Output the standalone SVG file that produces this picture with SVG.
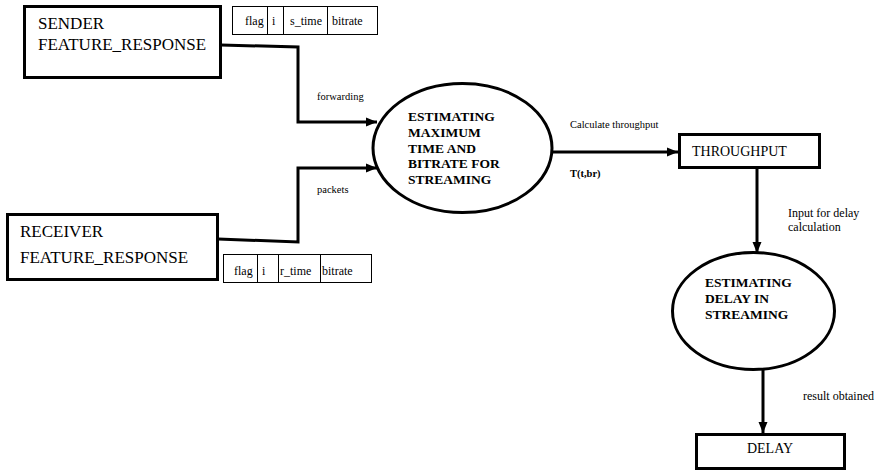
<svg xmlns="http://www.w3.org/2000/svg" width="881" height="473" viewBox="0 0 881 473">
<style>
.box{fill:#fff;stroke:#000;stroke-width:3}
.cell{fill:#fff;stroke:#000;stroke-width:1}
.ell{fill:#fff;stroke:#000;stroke-width:3}
.conn{fill:none;stroke:#000;stroke-width:3}
.t{font-family:"Liberation Serif","Times New Roman",serif;fill:#000}
.big{font-size:17px}
.mid{font-size:14px}
.cellt{font-size:12px}
.lab{font-size:10.5px}
.lab2{font-size:12px}
.bold{font-size:13.5px;font-weight:bold}
</style>
<defs>
<marker id="arr" markerUnits="userSpaceOnUse" markerWidth="12" markerHeight="10" refX="11" refY="5" orient="auto">
<path d="M0,0.5 L11,5 L0,9.5 z" fill="#000"/>
</marker>
</defs>
<rect width="881" height="473" fill="#fff"/>
<g id="connectors">
<polyline class="conn" points="221,45 298,47 298,122 377,122" marker-end="url(#arr)"/>
<polyline class="conn" points="218,239 298,242 298,168 377,168" marker-end="url(#arr)"/>
<line class="conn" x1="552" y1="152" x2="678" y2="152" marker-end="url(#arr)"/>
<line class="conn" x1="757" y1="169" x2="757" y2="253" marker-end="url(#arr)"/>
<line class="conn" x1="763" y1="370" x2="763" y2="433" marker-end="url(#arr)"/>
<text class="t lab" x="317" y="100">forwarding</text>
<text class="t lab" x="317" y="193">packets</text>
<text class="t lab" x="570" y="128">Calculate throughput</text>
<text class="t lab" x="570" y="177" font-weight="bold">T(t,br)</text>
<text class="t lab2" x="788" y="217">Input for delay</text>
<text class="t lab2" x="788" y="231">calculation</text>
<text class="t lab2" x="803" y="400">result obtained</text>
</g>
<g id="sender">
<rect class="box" x="24.5" y="6.5" width="196" height="71"/>
<text class="t big" x="38" y="29">SENDER</text>
<text class="t big" x="38" y="50">FEATURE_RESPONSE</text>
</g>
<g id="sender-fields">
<rect class="cell" x="232.5" y="6.5" width="145" height="28"/>
<line class="cell" x1="267.5" y1="6.5" x2="267.5" y2="34.5"/>
<line class="cell" x1="283.5" y1="6.5" x2="283.5" y2="34.5"/>
<line class="cell" x1="327.5" y1="6.5" x2="327.5" y2="34.5"/>
<text class="t cellt" x="245" y="25">flag</text>
<text class="t cellt" x="272" y="25">i</text>
<text class="t cellt" x="290" y="25">s_time</text>
<text class="t cellt" x="332" y="25">bitrate</text>
</g>
<g id="receiver">
<rect class="box" x="7.5" y="214.5" width="210" height="65"/>
<text class="t big" x="20" y="237">RECEIVER</text>
<text class="t big" x="20" y="263">FEATURE_RESPONSE</text>
</g>
<g id="receiver-fields">
<rect class="cell" x="223.5" y="254.5" width="148" height="28"/>
<line class="cell" x1="257.5" y1="254.5" x2="257.5" y2="282.5"/>
<line class="cell" x1="278.5" y1="254.5" x2="278.5" y2="282.5"/>
<line class="cell" x1="320.5" y1="254.5" x2="320.5" y2="282.5"/>
<text class="t cellt" x="234" y="275">flag</text>
<text class="t cellt" x="262" y="275">i</text>
<text class="t cellt" x="280" y="275">r_time</text>
<text class="t cellt" x="322" y="275">bitrate</text>
</g>
<g id="estimate-max">
<ellipse class="ell" cx="462.5" cy="148" rx="89.5" ry="64.5"/>
<text class="t bold" x="408" y="121">ESTIMATING</text>
<text class="t bold" x="408" y="137">MAXIMUM</text>
<text class="t bold" x="408" y="153">TIME AND</text>
<text class="t bold" x="408" y="168">BITRATE FOR</text>
<text class="t bold" x="408" y="184">STREAMING</text>
</g>
<g id="throughput">
<rect class="box" x="679.5" y="134.5" width="140" height="33"/>
<text class="t mid" x="692" y="156">THROUGHPUT</text>
</g>
<g id="estimate-delay">
<ellipse class="ell" cx="753.5" cy="311" rx="81" ry="58.5"/>
<text class="t bold" x="705" y="287">ESTIMATING</text>
<text class="t bold" x="705" y="303">DELAY IN</text>
<text class="t bold" x="705" y="319">STREAMING</text>
</g>
<g id="delay">
<rect class="box" x="696.5" y="434.5" width="148" height="34"/>
<text class="t mid" x="770" y="453" text-anchor="middle">DELAY</text>
</g>
</svg>
